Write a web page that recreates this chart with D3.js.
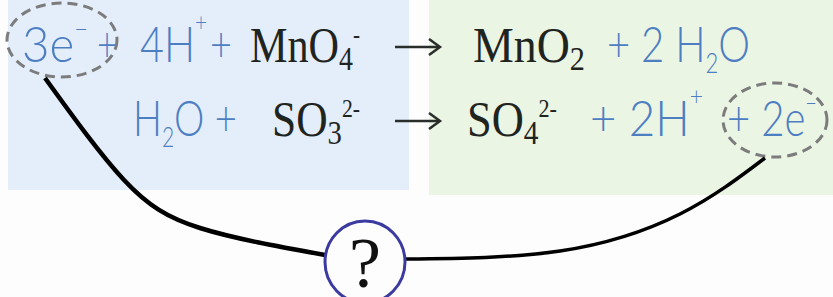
<!DOCTYPE html>
<html>
<head>
<meta charset="utf-8">
<script src="https://cdn.jsdelivr.net/npm/d3@7"></script>
<style>
  body { margin: 0; background: #fdfdfd; }
  svg { display: block; }
  .hand { font-family: "Lato", "Open Sans", sans-serif; font-weight: 300; fill: #4d7ec2; }
  .chem { font-family: "Liberation Serif", "DejaVu Serif", serif; fill: #1f241f; }
</style>
</head>
<body>
<script>
// terms of each half-reaction; pieces are [string, "n" | "sub" | "sup" | "minus"]
var row1 = [
  {t: [["3e", "n"], ["\u2212", "minus"]], k: "hand"},
  {t: [["+", "n"]], k: "hand"},
  {t: [["4H", "n"], ["+", "sup"]], k: "hand"},
  {t: [["+", "n"]], k: "hand"},
  {t: [["MnO", "n"], ["4", "sub"], ["-", "sup"]], k: "chem"},
  {t: [["MnO", "n"], ["2", "sub"]], k: "chem"},
  {t: [["+ 2 H", "n"], ["2", "sub"], ["O", "n"]], k: "hand"}
];
var row2 = [
  {t: [["H", "n"], ["2", "sub"], ["O +", "n"]], k: "hand"},
  {t: [["SO", "n"], ["3", "sub"], ["2-", "sup"]], k: "chem"},
  {t: [["SO", "n"], ["4", "sub"], ["2-", "sup"]], k: "chem"},
  {t: [["+ 2H", "n"], ["+", "sup"]], k: "hand"},
  {t: [["+ 2e", "n"], ["\u2212", "minus"]], k: "hand"}
];

// layout: left edge and drawn width of each term
var row1X = [22, 97, 140, 210, 250, 473, 607];
var row1W = [66, 20, 67, 22, 110, 112, 143];
var row2X = [133, 272, 467, 590, 727];
var row2W = [104, 88, 90, 113, 90];
var rowY = [62, 136];
var arrowX = [395, 440];

var W = 833, H = 297;
var svg = d3.select("body").append("svg").attr("width", W).attr("height", H);

// background panels
svg.append("rect").attr("x", 8).attr("y", 0).attr("width", 401).attr("height", 190).attr("fill", "#e4eefb");
svg.append("rect").attr("x", 429).attr("y", 0).attr("width", 404).attr("height", 195).attr("fill", "#ebf5e4");

var style = {
  hand: {size: 50, sub: [0.55, 0.22], sup: [0.5, -0.62], minus: [0.5, -0.48]},
  chem: {size: 50, sub: [0.66, 0.15], sup: [0.5, -0.38], minus: [0.5, -0.38]}
};

function drawRow(items, xs, ws, y) {
  var g = svg.append("g");
  items.forEach(function(d, i) {
    var s = style[d.k];
    var txt = g.append("text").attr("class", d.k).attr("x", xs[i]).attr("y", y)
      .attr("font-size", s.size)
      .attr("textLength", ws[i]).attr("lengthAdjust", "spacingAndGlyphs");
    var shift = 0;
    d.t.forEach(function(p) {
      var ts = txt.append("tspan").text(p[0]);
      var dy = 0;
      if (p[1] != "n") {
        ts.attr("font-size", s.size * s[p[1]][0]);
        dy = s.size * s[p[1]][1];
      }
      ts.attr("dy", dy - shift);
      shift = dy;
    });
  });
}
drawRow(row1, row1X, row1W, rowY[0]);
drawRow(row2, row2X, row2W, rowY[1]);

// reaction arrows
rowY.forEach(function(y) {
  var ay = y - 15;
  svg.append("path")
    .attr("d", d3.line()([[arrowX[0], ay], [arrowX[1], ay]]))
    .attr("stroke", "#2a2e2a").attr("stroke-width", 2.5).attr("fill", "none");
  svg.append("path")
    .attr("d", d3.line()([[arrowX[1] - 11, ay - 8], [arrowX[1], ay], [arrowX[1] - 11, ay + 8]]))
    .attr("stroke", "#2a2e2a").attr("stroke-width", 2.5).attr("fill", "none");
});

// dashed ellipses around the electrons
svg.append("ellipse").attr("cx", 62).attr("cy", 40).attr("rx", 55).attr("ry", 37)
  .attr("fill", "none").attr("stroke", "#7c7c7c").attr("stroke-width", 3).attr("stroke-dasharray", "10,6");
svg.append("ellipse").attr("cx", 775).attr("cy", 120).attr("rx", 52).attr("ry", 37)
  .attr("fill", "none").attr("stroke", "#7c7c7c").attr("stroke-width", 3).attr("stroke-dasharray", "10,6");

// connecting curves
var line = d3.line().curve(d3.curveNatural);
svg.append("path").attr("d", line([[45, 78], [124, 180], [200, 228], [325, 255]]))
  .attr("fill", "none").attr("stroke", "#000").attr("stroke-width", 4.5);
svg.append("path").attr("d", line([[405, 259], [560, 251], [680, 214], [765, 158]]))
  .attr("fill", "none").attr("stroke", "#000").attr("stroke-width", 3.5);

// question mark bubble
svg.append("ellipse").attr("cx", 365).attr("cy", 262).attr("rx", 40).attr("ry", 41)
  .attr("fill", "#fdfdfd").attr("stroke", "#3b3aa0").attr("stroke-width", 3);
svg.append("text").attr("class", "chem").attr("x", 365).attr("y", 287)
  .attr("text-anchor", "middle").attr("font-size", 72).style("fill", "#111").text("?");
</script>
</body>
</html>
